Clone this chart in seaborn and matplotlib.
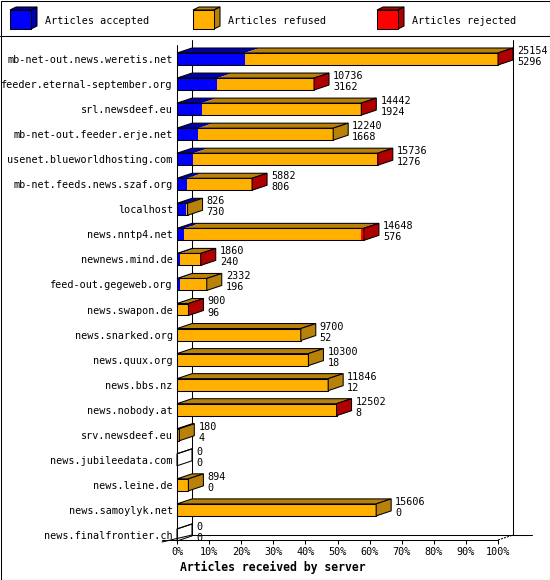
import numpy as np
import pandas as pd
import matplotlib
matplotlib.use("Agg")
import matplotlib.pyplot as plt
import seaborn as sns
from matplotlib.patches import Polygon, Rectangle
from matplotlib.lines import Line2D

# ---------------- data ----------------
servers = [
    "mb-net-out.news.weretis.net", "feeder.eternal-september.org", "srl.newsdeef.eu",
    "mb-net-out.feeder.erje.net", "usenet.blueworldhosting.com", "mb-net.feeds.news.szaf.org",
    "localhost", "news.nntp4.net", "newnews.mind.de", "feed-out.gegeweb.org",
    "news.swapon.de", "news.snarked.org", "news.quux.org", "news.bbs.nz",
    "news.nobody.at", "srv.newsdeef.eu", "news.jubileedata.com", "news.leine.de",
    "news.samoylyk.net", "news.finalfrontier.ch",
]
offered = [25154, 10736, 14442, 12240, 15736, 5882, 826, 14648, 1860, 2332,
           900, 9700, 10300, 11846, 12502, 180, 0, 894, 15606, 0]
accepted = [5296, 3162, 1924, 1668, 1276, 806, 730, 576, 240, 196,
            96, 52, 18, 12, 8, 4, 0, 0, 0, 0]
rejected = [30, 20, 30, 0, 25, 20, 0, 235, 80, 0,
            60, 0, 0, 0, 25, 0, 0, 0, 0, 0]
legend_labels = ["Articles accepted", "Articles refused", "Articles rejected"]
tick_values = list(range(0, 101, 10))
xlabel = "Articles received by server"

# ---------------- style ----------------
BLUE, BLUE_D = "#0000ff", "#0000a8"
ORANGE, ORANGE_D = "#ffb000", "#b8820a"
RED, RED_D = "#ff0000", "#b00000"
MONO = "DejaVu Sans Mono"
FS = 7.3
LW = 0.75

W, H = 550, 580
sns.set_theme(style="white")
plt.rcParams["font.family"] = [MONO]
for k in ["text.color", "axes.labelcolor", "xtick.color", "ytick.color"]:
    plt.rcParams[k] = "black"
fig = plt.figure(figsize=(W / 100, H / 100), dpi=100, facecolor="white")

def fx(x):
    return x / W

def fy(y):
    return 1 - y / H

# pixel geometry of the plot
X0, X100 = 177, 498          # front plane 0% .. 100%
ROW0, ROWSTEP = 59, 25.05    # row centre of first row, spacing
TOP, BOT = 40, 540
DXP, DYP = 15, 5             # 3D depth in pixels

ax = fig.add_axes([fx(X0), fy(BOT), (X100 - X0) / W, (BOT - TOP) / H])
ax.set_facecolor("none")

vmax = max(offered)
df = pd.DataFrame({
    "server": servers,
    "acc": np.array(accepted) / vmax * 100,
    "accref": (np.array(offered) - np.array(rejected)) / vmax * 100,
    "total": np.array(offered) / vmax * 100,
})
df["server"] = pd.Categorical(df["server"], categories=servers, ordered=True)

bw = 12 / ROWSTEP
kw = dict(data=df, y="server", orient="h", ax=ax, width=bw, saturation=1,
          linewidth=0, errorbar=None)
sns.barplot(x="total", color=RED, **kw)
sns.barplot(x="accref", color=ORANGE, **kw)
sns.barplot(x="acc", color=BLUE, **kw)
sns.barplot(data=df, y="server", x="total", orient="h", ax=ax, width=bw,
            fill=False, color="black", linewidth=LW, errorbar=None)
for p in ax.patches:
    p.set_clip_on(False)

ax.set_xlim(0, 100)
ax.set_ylim((BOT - ROW0) / ROWSTEP, (TOP - ROW0) / ROWSTEP)

dx = DXP / (X100 - X0) * 100
dy = DYP / ROWSTEP

for i in range(len(servers)):
    a = df["acc"].iloc[i]
    ar = df["accref"].iloc[i]
    t = df["total"].iloc[i]
    yt, yb = i - bw / 2, i + bw / 2
    segs = [(0, a, BLUE_D), (a, ar, ORANGE_D), (ar, t, RED_D)]
    last = None
    for s0, s1, c in segs:
        if s1 - s0 > 1e-9:
            ax.add_patch(Polygon([(s0, yt), (s1, yt), (s1 + dx, yt - dy), (s0 + dx, yt - dy)],
                                 closed=True, facecolor=c, edgecolor="none", zorder=3,
                                 clip_on=False))
            last = c
    ax.add_patch(Polygon([(0, yt), (t, yt), (t + dx, yt - dy), (dx, yt - dy)],
                         closed=True, facecolor="none", edgecolor="black", lw=LW, zorder=4,
                         clip_on=False))
    ax.add_patch(Polygon([(t, yt), (t + dx, yt - dy), (t + dx, yb - dy), (t, yb)],
                         closed=True, facecolor=last if last else "none",
                         edgecolor="black", lw=LW, zorder=4, clip_on=False))
    tx = t + dx + 4 / (X100 - X0) * 100
    ax.text(tx, i - 5 / ROWSTEP, f"{offered[i]}", fontsize=FS, va="baseline",
            ha="left", color="black", clip_on=False)
    ax.text(tx, i + 6 / ROWSTEP, f"{accepted[i]}", fontsize=FS, va="baseline",
            ha="left", color="black", clip_on=False)

# axes decorations
for sp in ax.spines.values():
    sp.set_visible(False)
ax.set_xlabel("")
ax.set_ylabel("")
ax.set_yticks(range(len(servers)))
ax.set_yticklabels(servers, fontsize=FS, color="black")
ax.tick_params(axis="y", length=0, pad=3, labelcolor="black")
ax.set_xticks(tick_values)
ax.set_xticklabels([f"{v}%" for v in tick_values], fontsize=FS, color="black")
ax.tick_params(axis="x", bottom=True, direction="out", length=3, width=LW,
               color="black", pad=2, labelcolor="black")
ax.grid(False)

def line(x0, y0, x1, y1, z=-1, **k):
    fig.add_artist(Line2D([fx(x0), fx(x1)], [fy(y0), fy(y1)], transform=fig.transFigure,
                          color="black", lw=LW, zorder=z, **k))

# 3D frame (behind the bars)
line(X0, 45, X0, BOT)                         # front left axis
line(X0 + DXP, TOP, X0 + DXP, BOT - DYP)      # back left
line(X100 + DXP, TOP, X100 + DXP, BOT - DYP)  # back right
line(162, BOT, X100, BOT)                     # front floor
line(X0 + DXP, BOT - DYP, 532, BOT - DYP)     # back floor
line(162, 542, X0 + DXP, BOT - DYP)           # left floor edge
line(X100, BOT, X100 + DXP, BOT - DYP, linestyle=(0, (2, 1)))

fig.text(fx(180), fy(571), xlabel, fontsize=8.3, fontweight="bold",
         ha="left", va="baseline", family=MONO, color="black")

# legend with cubes
leg_x = [10, 193, 377]
cols = [(BLUE, BLUE_D), (ORANGE, ORANGE_D), (RED, RED_D)]
for lx, (c, cd), lab in zip(leg_x, cols, legend_labels):
    fw, fh, ddx, ddy = 21, 19, 6, 3
    top, left = 10, lx
    fig.add_artist(Polygon([(fx(left), fy(top)), (fx(left + ddx), fy(top - ddy)),
                            (fx(left + fw + ddx), fy(top - ddy)), (fx(left + fw), fy(top))],
                           closed=True, transform=fig.transFigure, facecolor=cd,
                           edgecolor="black", lw=LW))
    fig.add_artist(Polygon([(fx(left + fw), fy(top)), (fx(left + fw + ddx), fy(top - ddy)),
                            (fx(left + fw + ddx), fy(top + fh - ddy)), (fx(left + fw), fy(top + fh))],
                           closed=True, transform=fig.transFigure, facecolor=cd,
                           edgecolor="black", lw=LW))
    fig.add_artist(Rectangle((fx(left), fy(top + fh)), fw / W, fh / H,
                             transform=fig.transFigure, facecolor=c,
                             edgecolor="black", lw=LW))
    fig.text(fx(lx + 35), fy(24), lab, fontsize=FS, ha="left", va="baseline",
             family=MONO, color="black")

line(0, 36, W, 36, z=5)
fig.add_artist(Rectangle((fx(0.5), fy(H - 0.5)), (W - 1) / W, (H - 1) / H,
                         transform=fig.transFigure, facecolor="none",
                         edgecolor="black", lw=LW))

fig.savefig("out.png", dpi=100, facecolor="white")
